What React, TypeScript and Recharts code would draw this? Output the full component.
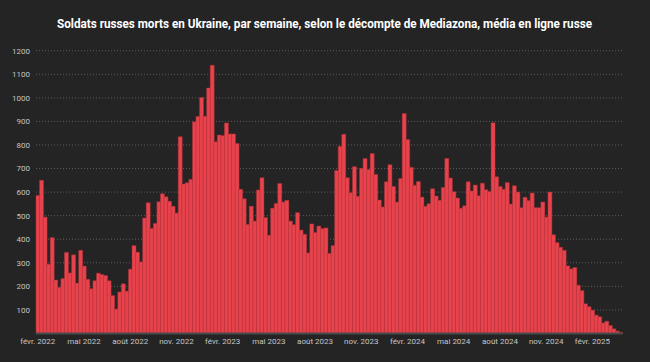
import React from "react";
import { Bar, BarChart, CartesianGrid, XAxis, YAxis } from "recharts";

// Weekly Russian soldier deaths (Mediazona)
const WEEKLY_DEATHS = [
  586, 650, 494, 294, 407, 227, 196, 233, 344, 257, 334, 214, 353, 286, 230, 190, 224, 256, 250, 246, 224, 161, 104, 176, 211, 180,
  273, 373, 345, 304, 490, 555, 446, 467, 559, 593, 580, 561, 540, 511, 835, 634, 640, 654, 898, 921, 1001, 922, 1042, 1138, 814, 842, 840, 893,
  847, 847, 806, 612, 572, 463, 540, 477, 609, 661, 492, 417, 532, 552, 637, 558, 565, 477, 462, 513, 439, 421, 342, 465, 429, 456, 445, 448,
  340, 373, 692, 795, 845, 661, 597, 708, 582, 701, 743, 696, 764, 675, 566, 537, 644, 716, 624, 558, 658, 934, 823, 705, 629, 645, 579,
  540, 551, 614, 583, 565, 619, 743, 660, 602, 575, 532, 542, 644, 605, 630, 585, 638, 610, 603, 894, 665, 624, 612, 641, 549, 627, 600, 534,
  578, 564, 596, 534, 534, 558, 494, 600, 419, 386, 366, 353, 287, 274, 280, 205, 182, 126, 114, 99, 78, 71, 45, 52, 34, 20, 10, 4,
];

// one label every 13 weeks
const MONTH_LABELS = [
  "févr. 2022", "mai 2022", "août 2022", "nov. 2022",
  "févr. 2023", "mai 2023", "août 2023", "nov. 2023",
  "févr. 2024", "mai 2024", "août 2024", "nov. 2024",
  "févr. 2025",
];
const WEEKS_PER_LABEL = 13;

const Y_TICKS = [100, 200, 300, 400, 500, 600, 700, 800, 900, 1000, 1100, 1200];

const TITLE = "Soldats russes morts en Ukraine, par semaine, selon le décompte de Mediazona, média en ligne russe";

const data = WEEKLY_DEATHS.map((value, week) => ({ week, value }));

const BG = "#242424";
const FONT = "Roboto, 'DejaVu Sans', sans-serif";

if (typeof document !== "undefined") document.body.style.margin = "0";

export default function App() {
  return (
    <div style={{ position: "relative", width: 650, height: 362, background: BG, fontFamily: FONT }}>
      <svg width={650} height={40} style={{ position: "absolute", left: 0, top: 0 }}>
        <text
          x={57}
          y={28}
          fill="#ffffff"
          fontSize={13}
          fontWeight={700}
          textLength={535}
          lengthAdjust="spacingAndGlyphs"
          fontFamily={FONT}
        >
          {TITLE}
        </text>
      </svg>
      <BarChart
        width={650}
        height={362}
        data={data}
        margin={{ top: 50.7, right: 27.4, bottom: 8.5, left: 0 }}
        barCategoryGap={0}
      >
        <CartesianGrid vertical={false} stroke="#5c5c5c" strokeDasharray="1 2" />
        <XAxis
          dataKey="week"
          interval={WEEKS_PER_LABEL - 1}
          tickFormatter={(w: number) => MONTH_LABELS[Math.round(w / WEEKS_PER_LABEL)] ?? ""}
          tickLine={false}
          tickSize={0}
          tickMargin={5}
          height={20}
          axisLine={{ stroke: "#4a4a4a", strokeWidth: 2 }}
          tick={{ fill: "#c4c4c4", fontSize: 8 }}
        />
        <YAxis
          domain={[0, 1200]}
          ticks={Y_TICKS}
          width={36}
          axisLine={false}
          tickLine={false}
          tickSize={0}
          tickMargin={6}
          tick={{ fill: "#c4c4c4", fontSize: 8 }}
        />
        <Bar dataKey="value" fill="#e8434c" stroke="#a82f36" strokeWidth={0.5} isAnimationActive={false} />
      </BarChart>
    </div>
  );
}
